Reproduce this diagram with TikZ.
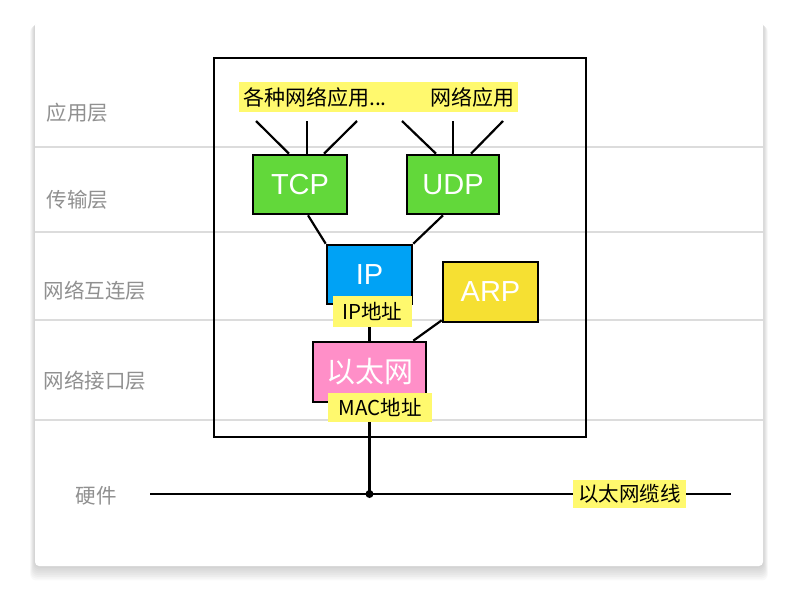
\documentclass[tikz,border=0pt]{standalone}
\usepackage{fontspec}
\setmainfont{Liberation Sans}
\newfontfamily\cjk{Noto Sans CJK SC}
\usetikzlibrary{positioning}
\definecolor{tcpgreen}{HTML}{62D83A}
\definecolor{ipblue}{HTML}{00A2F5}
\definecolor{arpyellow}{HTML}{F6E032}
\definecolor{ethpink}{HTML}{FF8FC8}
\definecolor{hilite}{HTML}{FFF96E}
\definecolor{layergray}{HTML}{909090}
\definecolor{rulegray}{HTML}{DCDCDC}

\begin{document}
\begin{tikzpicture}[x=1pt,y=-1pt,
    proto/.style={draw,line width=2.6pt,text=white,inner sep=0pt,
      font=\fontsize{29}{29}\selectfont},
    tag/.style={fill=hilite,inner sep=0pt,font=\cjk\fontsize{20.5}{20.5}\selectfont},
    layer/.style={text=layergray,anchor=west,font=\cjk\fontsize{20.5}{20.5}\selectfont},
    wire/.style={line width=2.2pt}]
  \useasboundingbox (0,0) rectangle (803,603);
  % card with soft shadow
  \foreach \s in {1,...,8}
    \fill[black,opacity=0.025,rounded corners=6] (35-\s*0.6,21+\s*0.6) rectangle (763+\s*0.6,566+\s*1.8);
  \fill[white,rounded corners=4] (35,21) rectangle (763,566);
  % layer rules and names
  \foreach \y in {147,232,320,420}
    \draw[rulegray,line width=1.6pt] (35,\y) -- (763,\y);
  \node[layer] (lapp) at (43,113) {应用层};
  \node[layer] (ltrans) at (43,200) {传输层};
  \node[layer] (lnet) at (40,291) {网络互连层};
  \node[layer] (llink) at (40,381) {网络接口层};
  \node[layer] (lhw) at (72,496) {硬件};
  % stack frame
  \draw[line width=2pt] (214,58) rectangle (586,437);
  % protocol boxes
  \node[proto,fill=tcpgreen,minimum width=94,minimum height=59] (tcp) at (300,184.5) {TCP};
  \node[proto,fill=tcpgreen,minimum width=92,minimum height=59] (udp) at (453,184.5) {UDP};
  \node[proto,fill=ipblue,minimum width=85,minimum height=59] (ip) at (369.5,274.5) {IP};
  \node[proto,fill=arpyellow,minimum width=95,minimum height=60] (arp) at (490.5,292) {ARP};
  \node[proto,fill=ethpink,minimum width=113,minimum height=60,font=\cjk\fontsize{29}{29}\selectfont] (eth) at (369.5,372) {以太网};
  % applications
  \node[tag,minimum width=279,minimum height=30] (apps) at (378.5,97) {};
  \node[font=\cjk\fontsize{21}{21}\selectfont,inner sep=0pt] (app1) at (315,97) {各种网络应用...};
  \node[font=\cjk\fontsize{21}{21}\selectfont,inner sep=0pt] (app2) at (472,97) {网络应用};
  \coordinate (t1) at (256,121);
  \coordinate (t2) at (307,121);
  \coordinate (t3) at (357,121);
  \coordinate (u1) at (402,121);
  \coordinate (u2) at (453,121);
  \coordinate (u3) at (503,121);
  \draw[wire] (t1) -- ([xshift=-11]tcp.north);
  \draw[wire] (t2) -- ([xshift=7]tcp.north);
  \draw[wire] (t3) -- ([xshift=24]tcp.north);
  \draw[wire] (u1) -- ([xshift=-17]udp.north);
  \draw[wire] (u2) -- (udp.north);
  \draw[wire] (u3) -- ([xshift=18]udp.north);
  % down the stack
  \draw[wire] ([xshift=8]tcp.south) -- (ip.north west);
  \draw[wire] ([xshift=-10]udp.south) -- (ip.north east);
  \draw[wire] (ip.south) -- (eth.north);
  \draw[wire] ([yshift=3]arp.south west) -- ([xshift=-14]eth.north east);
  % cable
  \coordinate (cableL) at (150,494);
  \coordinate (cableR) at (731,494);
  \coordinate (tap) at (369.5,494);
  \draw[wire] (cableL) -- (cableR);
  \draw[wire] (eth.south) -- (tap);
  \fill (tap) circle (4);
  % address tags
  \node[tag,minimum width=79,minimum height=31] (iptag) at (372.5,311.5) {IP地址};
  \node[tag,minimum width=104,minimum height=29] (mactag) at (380,407.5) {MAC地址};
  \node[tag,minimum width=113,minimum height=28] (cabletag) at (629.5,494) {以太网缆线};
\end{tikzpicture}
\end{document}
